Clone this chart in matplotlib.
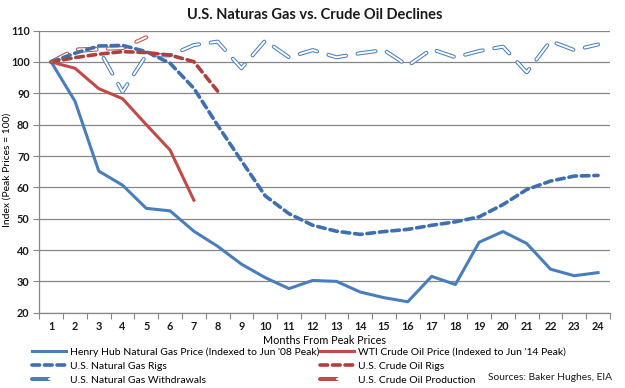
import matplotlib
matplotlib.use('Agg')
import matplotlib.pyplot as plt
from matplotlib.lines import Line2D
from matplotlib.legend_handler import HandlerTuple

plt.rcParams['font.family'] = ['Lato', 'DejaVu Sans']
plt.rcParams['lines.scale_dashes'] = False

months = list(range(1, 25))
henry_hub = [100, 87.5, 65.2, 60.7, 53.3, 52.5, 46.0, 41.2, 35.5, 31.2, 27.7, 30.3,
             30.0, 26.6, 24.8, 23.5, 31.6, 29.0, 42.5, 45.9, 42.1, 33.9, 31.8, 32.8]
wti = [100, 98.0, 91.5, 88.3, 80.0, 71.9, 55.9]
ng_rigs = [100, 102.8, 105.1, 105.3, 103.3, 99.6, 91.6, 79.8, 68.5, 57.3, 51.6, 47.9,
           46.0, 45.0, 45.9, 46.6, 47.9, 49.0, 50.6, 54.5, 59.3, 62.0, 63.6, 63.8]
oil_rigs = [100, 101.4, 102.5, 103.3, 103.0, 102.2, 100.1, 90.7]
ng_withdrawals = [100, 103.5, 104.0, 90.5, 102.2, 102.1, 105.4, 106.5, 98.0, 106.8, 101.5, 103.8,
                  101.5, 102.8, 103.8, 98.8, 104.1, 101.5, 103.5, 104.9, 96.7, 106.7, 103.8, 105.6]
oil_production = [100, 104.0, 104.2, 104.4, 107.9]

labels = ["Henry Hub Natural Gas Price (Indexed to Jun '08 Peak)",
          "U.S. Natural Gas Rigs",
          "U.S. Natural Gas Withdrawals",
          "WTI Crude Oil Price (Indexed to Jun '14 Peak)",
          "U.S. Crude Oil Rigs",
          "U.S. Crude Oil Production"]

BLUE = '#4A7EBB'
BLUE_D = '#3F6FAE'
RED = '#BE4B48'
RED_D = '#AE403D'
GRID = '#868686'

fig = plt.figure(figsize=(6.25, 3.88), dpi=100)
ax = fig.add_axes([0.0629, 0.194, 0.913, 0.727])

def hollow(x, y, color):
    dash = (0, (13.0, 8.5))
    o, = ax.plot(x, y, color=color, lw=2.9, linestyle=dash, solid_capstyle='round',
                 dash_capstyle='round', dash_joinstyle='round', zorder=3)
    i, = ax.plot(x, y, color='white', lw=1.4, linestyle=dash, solid_capstyle='round',
                 dash_capstyle='round', dash_joinstyle='round', zorder=3.1)
    return (o, i)

h_ngw = hollow(months[:len(ng_withdrawals)], ng_withdrawals, BLUE)
h_oilp = hollow(months[:len(oil_production)], oil_production, RED)

h_ngr, = ax.plot(months[:len(ng_rigs)], ng_rigs, color=BLUE_D, lw=2.6,
                 linestyle=(0, (5.5, 3.5)), dash_capstyle='round', zorder=4)
h_oilr, = ax.plot(months[:len(oil_rigs)], oil_rigs, color=RED_D, lw=2.6,
                  linestyle=(0, (5.5, 3.5)), dash_capstyle='round', zorder=4)
h_hh, = ax.plot(months[:len(henry_hub)], henry_hub, color=BLUE, lw=2.2,
                solid_joinstyle='round', zorder=5)
h_wti, = ax.plot(months[:len(wti)], wti, color=RED, lw=2.2,
                 solid_joinstyle='round', zorder=5)

ax.set_xlim(0.5, 24.5)
ax.set_ylim(20, 110)
ax.set_yticks(range(20, 111, 10))
ax.set_xticks(months)
ax.set_xticks([m + 0.5 for m in range(0, 25)], minor=True)
ax.tick_params(axis='x', which='major', length=0, pad=6, labelsize=7.8)
ax.tick_params(axis='x', which='minor', length=4, width=0.8, color=GRID, direction='out')
ax.tick_params(axis='y', length=4, width=0.8, color=GRID, direction='out', pad=3, labelsize=7.8)
for t in ax.get_xticklabels() + ax.get_yticklabels():
    t.set_fontweight('bold')
    t.set_color('#1a1a1a')
ax.grid(axis='y', color=GRID, lw=0.9)
ax.set_axisbelow(True)
for s in ['top', 'right']:
    ax.spines[s].set_visible(False)
for s in ['left', 'bottom']:
    ax.spines[s].set_color(GRID)
    ax.spines[s].set_linewidth(0.9)

ax.set_xlabel('Months From Peak Prices', fontsize=7.8, labelpad=2)
ax.set_ylabel('Index (Peak Prices = 100)', fontsize=7.5)
ax.yaxis.set_label_coords(-0.048, 0.506)
fig.text(0.503, 0.962, 'U.S. Naturas Gas vs. Crude Oil Declines', ha='center', va='center',
         fontsize=10.5, fontweight='bold', color='#1a1a1a')

common = dict(frameon=False, fontsize=7.5, handlelength=3.3, handletextpad=0.35,
              labelspacing=0.45, borderpad=0, borderaxespad=0,
              handler_map={tuple: HandlerTuple(ndivide=None)})
fig.legend([h_hh, h_ngr, h_ngw], labels[:3], loc='upper left',
           bbox_to_anchor=(0.051, 0.105), **common)
fig.legend([h_wti, h_oilr, h_oilp], labels[3:], loc='upper left',
           bbox_to_anchor=(0.512, 0.105), **common)
fig.text(0.979, 1 - 378 / 388, 'Sources: Baker Hughes, EIA', ha='right', va='center',
         fontsize=7.4, color='#1a1a1a')

fig.savefig('out.png', dpi=100)
